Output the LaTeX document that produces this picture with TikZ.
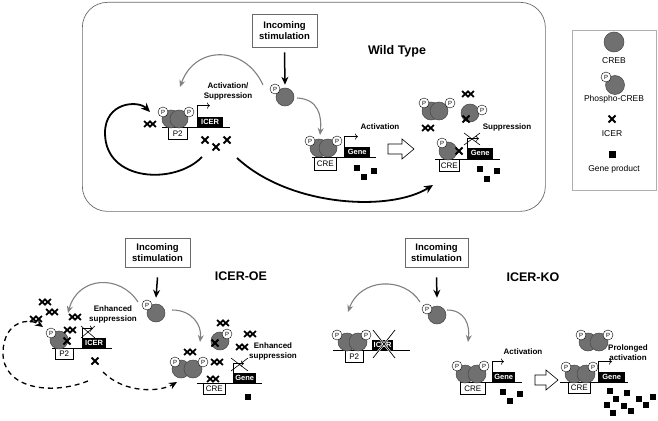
\documentclass[tikz,border=0pt]{standalone}
\usepackage{fontspec}
\setmainfont{Liberation Sans}
\usetikzlibrary{arrows.meta,shapes.misc,calc}
\definecolor{crebfill}{RGB}{112,112,112}
\definecolor{crebedge}{RGB}{70,70,70}
\definecolor{arrgray}{RGB}{128,128,128}
\definecolor{boxgray}{RGB}{105,105,105}
\definecolor{leggray}{RGB}{175,175,175}
\tikzset{
 creb/.style={circle, fill=crebfill, draw=crebedge, line width=0.5pt, minimum size=18pt, inner sep=0},
 pcirc/.style={circle, draw=black, fill=white, line width=0.4pt, minimum size=10pt, inner sep=0, font=\fontsize{6}{6}\selectfont},
 icerx/.style={cross out, draw=black, line width=1.9pt, minimum size=7pt, inner sep=0, outer sep=0},
 dblxpart/.style={cross out, draw=black, line width=1.8pt, minimum width=6.5pt, minimum height=6pt, inner sep=0, outer sep=0},
 prod/.style={fill=black, minimum size=6.5pt, inner sep=0},
 genebox/.style={fill=black, text=white, font=\bfseries\fontsize{7.5}{7.5}\selectfont, minimum height=10pt, inner sep=0, anchor=south west},
 sitebox/.style={draw=black, fill=white, line width=0.5pt, font=\fontsize{8}{8}\selectfont, inner sep=0, anchor=north west},
 stimbox/.style={draw=boxgray, line width=0.7pt, font=\bfseries\fontsize{9.5}{11}\selectfont, align=center},
 lbl/.style={font=\bfseries\fontsize{8}{10}\selectfont, align=center},
 title/.style={font=\bfseries\fontsize{12.5}{14}\selectfont},
 legtxt/.style={font=\fontsize{8.5}{10}\selectfont},
 greyarr/.style={draw=arrgray, line width=1.1pt, -{Stealth[length=7pt,width=6pt]}},
 blackarr/.style={line width=1.8pt, -{Stealth[length=9pt,width=8pt]}},
 dasharr/.style={line width=1.3pt, dash pattern=on 5pt off 4pt, -{Stealth[length=8pt,width=7pt]}},
 stimarr/.style={line width=1.5pt, -{Stealth[length=8pt,width=7pt]}},
 dna/.style={line width=0.7pt},
 prom/.style={line width=0.6pt, -{To[length=3pt,width=6pt]}},
 thinx/.style={line width=0.6pt},
 blockarr/.style={draw=black, line width=0.6pt, fill=white}
}
\newcommand\xxmark[3]{\node[dblxpart] (#1-a) at ({#2-2.7},#3) {};\node[dblxpart] (#1-b) at ({#2+2.7},#3) {};}
\begin{document}
\begin{tikzpicture}[x=1pt,y=-1pt]
\useasboundingbox (0,0) rectangle (658,420);
% ================= WILD TYPE =================
\node[draw=boxgray, line width=0.7pt, rounded corners=25pt, minimum width=463pt, minimum height=209pt, anchor=north west] (wtframe) at (82,2) {};
\node[stimbox, minimum width=65pt, minimum height=33pt] (wtstim) at (284.5,30.5) {Incoming\\stimulation};
\node[title] (wttitle) at (397,51) {Wild Type};
\node[creb] (wtfree) at (285,97) {};
\node[pcirc] (wtfreep) at (275,89) {P};
\draw[stimarr] ($(wtstim.south)+(0,5)$) -- ($(wtfree.north)+(0,-3)$);
% P2 / ICER promoter
\draw[dna] (162,127) -- (230,127);
\node[sitebox, minimum width=19pt, minimum height=12pt] (wtp2) at (168,127) {P2};
\node[genebox, minimum width=26pt] (wticer) at (197,127) {ICER};
\draw[prom] (wticer.north west) -- ++(0,-11) -- ++(13,0);
\node[creb] (wtc1) at (171,119) {};
\node[creb] (wtc2) at (179,119) {};
\node[pcirc] (wtc1p) at (163,112) {P};
\node[pcirc] (wtc2p) at (189,112) {P};
\node[lbl] (wtactsup) at (228,91) {Activation/\\Suppression};
\xxmark{wtxx1}{150}{124}
\node[icerx] (wtx1) at (205,140) {};
\node[icerx] (wtx2) at (216,147) {};
\node[icerx] (wtx3) at (227,140) {};
% grey arrows
\coordinate (wtgl0) at (263,85);
\coordinate (wtgl1) at (180,87);
\draw[greyarr] (wtgl0) .. controls (245,45) and (195,45) .. (wtgl1);
\coordinate (wtgr0) at (297,98);
\coordinate (wtgr1) at (320,135);
\draw[greyarr] (wtgr0) .. controls (318,99) and (322,115) .. (wtgr1);
% black loops
\coordinate (wtl0) at (202,157);
\coordinate (wtl1) at (105,133);
\coordinate (wtl2) at (150,112);
\draw[blackarr] (wtl0) .. controls (175,185) and (105,182) .. (wtl1) .. controls (105,102) and (138,100) .. (wtl2);
\coordinate (wtm0) at (237,158);
\coordinate (wtm1) at (433,185);
\draw[blackarr] (wtm0) .. controls (290,207) and (390,212) .. (wtm1);
% middle activation
\draw[dna] (312,157) -- (376,157);
\node[sitebox, minimum width=22pt, minimum height=13pt] (wtcre1) at (314,157) {CRE};
\node[genebox, minimum width=26pt] (wtgene1) at (344,157) {Gene};
\draw[prom] (wtgene1.north west) -- ++(0,-10) -- ++(14,0);
\node[creb] (wtm1c) at (319,148) {};
\node[creb] (wtm2c) at (328,148) {};
\node[pcirc] (wtm1p) at (310,141) {P};
\node[pcirc] (wtm2p) at (337,141) {P};
\node[lbl] (wtact) at (380,127) {Activation};
\node[prod] (wtsq1) at (357,168) {};
\node[prod] (wtsq2) at (374,171) {};
\node[prod] (wtsq3) at (364,177) {};
% block arrow
\draw[blockarr] (388,144) -- (402,144) -- (402,139) -- (414,149) -- (402,159) -- (402,154) -- (388,154) -- cycle;
% right suppression
\node[creb] (wtr1c) at (431,111) {};
\node[creb] (wtr2c) at (439,111) {};
\node[pcirc] (wtr1p) at (424,103) {P};
\node[pcirc] (wtr2p) at (450,103) {P};
\xxmark{wtxx2}{468}{94}
\node[creb] (wtr3c) at (470,113) {};
\node[pcirc] (wtr3p) at (482,110) {P};
\node[icerx] (wtx4) at (466,119) {};
\xxmark{wtxx3}{428}{128}
\node[lbl] (wtsup) at (507,127) {Suppression};
\draw[dna] (435,159) -- (500,159);
\node[sitebox, minimum width=20pt, minimum height=12pt] (wtcre2) at (439,159) {CRE};
\node[genebox, minimum width=26pt, minimum height=11pt] (wtgene2) at (467,159) {Gene};
\node[creb] (wtr4c) at (448,151) {};
\node[pcirc] (wtr4p) at (442,143) {P};
\node[icerx] (wtx5) at (459,151) {};
\draw[prom] (wtgene2.north west) -- ++(0,-9) -- ++(12,0);
\draw[thinx] (464,133) -- (480,145) (464,145) -- (480,133);
\node[prod] (wtsq4) at (480,169) {};
\node[prod] (wtsq5) at (497,171) {};
\node[prod] (wtsq6) at (487,179) {};
% ================= LEGEND =================
\node[draw=leggray, line width=0.6pt, minimum width=84pt, minimum height=160pt, anchor=north west] (legend) at (572,30) {};
\node[creb, minimum size=20pt] (legc) at (614,42) {};
\node[legtxt] (legct) at (614,61) {CREB};
\node[creb, minimum size=19pt] (legpc) at (615,85) {};
\node[pcirc] (legpp) at (606,77) {P};
\node[legtxt] (legpt) at (614,99) {Phospho-CREB};
\node[icerx] (legx) at (612,119) {};
\node[legtxt] (legxt) at (612,134) {ICER};
\node[prod, minimum size=7pt] (legsq) at (612,154) {};
\node[legtxt] (legst) at (614,169) {Gene product};
% ================= ICER-OE =================
\node[stimbox, minimum width=65pt, minimum height=29pt] (oestim) at (157.5,252.5) {Incoming\\stimulation};
\node[title] (oetitle) at (241,276) {ICER-OE};
\node[creb] (oefree) at (156,313) {};
\node[pcirc] (oefreep) at (147,305) {P};
\draw[stimarr] ($(oestim.south)+(0,10)$) -- ($(oefree.north)+(0,-6)$);
\node[lbl] (oeenh1) at (113,314) {Enhanced\\suppression};
\coordinate (oegl0) at (138,302);
\coordinate (oegl1) at (68,313);
\draw[greyarr] (oegl0) .. controls (120,274) and (78,276) .. (oegl1);
\coordinate (oegr0) at (172,310);
\coordinate (oegr1) at (200,342);
\draw[greyarr] (oegr0) .. controls (192,310) and (202,325) .. (oegr1);
% P2
\draw[dna] (52,348) -- (112,348);
\node[sitebox, minimum width=18pt, minimum height=11pt] (oep2) at (55,348) {P2};
\node[genebox, minimum width=24pt] (oeicer) at (82,348) {ICER};
\draw[prom] (oeicer.north west) -- ++(0,-9) -- ++(11,0);
\draw[thinx] (81,326) -- (95,338) (81,338) -- (95,326);
\node[creb] (oec1) at (59,340) {};
\node[pcirc] (oec1p) at (51,333) {P};
\node[icerx] (oex1) at (67,341) {};
\xxmark{oexx1}{45}{302}
\xxmark{oexx2}{36}{319}
\xxmark{oexx3}{52}{312}
\xxmark{oexx4}{75}{317}
\xxmark{oexx5}{70}{330}
\node[icerx] (oex2) at (95,361) {};
\coordinate (oed0) at (88,381);
\coordinate (oed1) at (3,352);
\coordinate (oed2) at (43,327);
\draw[dasharr] (oed0) .. controls (50,396) and (2,388) .. (oed1) .. controls (4,320) and (30,318) .. (oed2);
\coordinate (oee0) at (103,372);
\coordinate (oee1) at (177,382);
\draw[dasharr] (oee0) .. controls (125,394) and (160,392) .. (oee1);
% right
\draw[dna] (197,383) -- (262,383);
\node[sitebox, minimum width=22pt, minimum height=11pt] (oecre) at (203,383) {CRE};
\node[genebox, minimum width=23pt] (oegene) at (233,383) {Gene};
\draw[prom] (oegene.north west) -- ++(0,-9) -- ++(11,0);
\draw[thinx] (231,358) -- (248,371) (231,371) -- (248,358);
\node[creb] (oer1c) at (181,369) {};
\node[creb] (oer2c) at (193,369) {};
\node[pcirc] (oer1p) at (175,362) {P};
\node[pcirc] (oer2p) at (203,362) {P};
\node[creb] (oer3c) at (220,341) {};
\node[pcirc] (oer3p) at (227,334) {P};
\node[icerx] (oex3) at (215,343) {};
\xxmark{oexx6}{223}{323}
\xxmark{oexx7}{250}{334}
\xxmark{oexx8}{190}{352}
\xxmark{oexx9}{217}{362}
\xxmark{oexx10}{213}{379}
\xxmark{oexx11}{242}{347}
\node[lbl] (oeenh2) at (273,351.5) {Enhanced\\suppression};
\node[prod] (oesq1) at (248,397) {};
% ================= ICER-KO =================
\node[stimbox, minimum width=63pt, minimum height=29pt] (kostim) at (436.5,252.5) {Incoming\\stimulation};
\node[title] (kotitle) at (533,277) {ICER-KO};
\node[creb] (kofree) at (437,315) {};
\node[pcirc] (kofreep) at (427,309) {P};
\draw[stimarr] ($(kostim.south)+(0,10)$) -- ($(kofree.north)+(0,-8)$);
\coordinate (kogl0) at (420,302);
\coordinate (kogl1) at (348,312);
\draw[greyarr] (kogl0) .. controls (404,276) and (360,278) .. (kogl1);
\coordinate (kogr0) at (447,310);
\coordinate (kogr1) at (468,342);
\draw[greyarr] (kogr0) .. controls (465,310) and (470,325) .. (kogr1);
% P2 knocked out
\draw[dna] (333,350) -- (410,350);
\node[sitebox, minimum width=18pt, minimum height=12pt] (kop2) at (345,350) {P2};
\node[genebox, minimum width=21pt] (koicer) at (372,350) {ICER};
\node[creb] (koc1) at (347,342) {};
\node[creb] (koc2) at (358,342) {};
\node[pcirc] (koc1p) at (337,335) {P};
\node[pcirc] (koc2p) at (366,335) {P};
\draw[white, line width=2pt] (373,330) -- (395,358) (373,358) -- (395,330);
\draw[line width=0.7pt] (373,330) -- (395,358) (373,358) -- (395,330);
% middle activation
\draw[dna] (460,382) -- (522,382);
\node[sitebox, minimum width=25pt, minimum height=12pt] (kocre1) at (460,382) {CRE};
\node[genebox, minimum width=23pt] (kogene1) at (492,382) {Gene};
\draw[prom] (kogene1.north west) -- ++(0,-10) -- ++(12,0);
\node[creb] (kom1c) at (465,374) {};
\node[creb] (kom2c) at (477,374) {};
\node[pcirc] (kom1p) at (457,366) {P};
\node[pcirc] (kom2p) at (484,366) {P};
\node[lbl] (koact) at (523,352) {Activation};
\node[prod] (kosq1) at (503,392) {};
\node[prod] (kosq2) at (520,394) {};
\node[prod] (kosq3) at (510,401) {};
\draw[blockarr] (535,375) -- (546,375) -- (546,370) -- (558,380) -- (546,390) -- (546,385) -- (535,385) -- cycle;
% right prolonged
\node[creb] (kot1c) at (588,342) {};
\node[creb] (kot2c) at (599,342) {};
\node[pcirc] (kot1p) at (581,335) {P};
\node[pcirc] (kot2p) at (608,335) {P};
\draw[dna] (560,382) -- (628,382);
\node[sitebox, minimum width=22pt, minimum height=11pt] (kocre2) at (568,382) {CRE};
\node[genebox, minimum width=27pt] (kogene2) at (598,382) {Gene};
\draw[prom] (kogene2.north west) -- ++(0,-10) -- ++(14,0);
\node[creb] (kor1c) at (574,374) {};
\node[creb] (kor2c) at (586,374) {};
\node[pcirc] (kor1p) at (566,367) {P};
\node[pcirc] (kor2p) at (593,367) {P};
\node[lbl] (koprol) at (628,352.5) {Prolonged\\activation};
\node[prod] (kosq4) at (610,391) {};
\node[prod] (kosq5) at (627,393) {};
\node[prod] (kosq6) at (616,399) {};
\node[prod] (kosq7) at (607,405) {};
\node[prod] (kosq8) at (624,406) {};
\node[prod] (kosq9) at (639,399) {};
\node[prod] (kosq10) at (646,405) {};
\node[prod] (kosq11) at (631,411) {};
\node[prod] (kosq12) at (613,413) {};
\node[prod] (kosq13) at (653,397) {};
\end{tikzpicture}
\end{document}
